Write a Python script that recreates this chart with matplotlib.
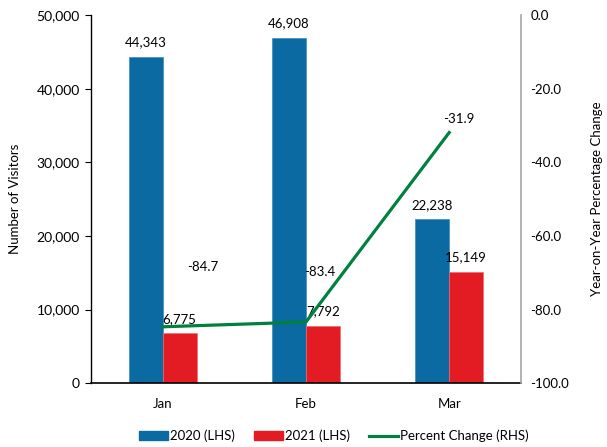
import numpy as np
import matplotlib.pyplot as plt
from matplotlib.lines import Line2D
from matplotlib.patches import Patch
from matplotlib.ticker import FuncFormatter

plt.rcParams['font.family'] = ['Lato', 'DejaVu Sans']

months = ["Jan", "Feb", "Mar"]
visitors_2020 = [44343, 46908, 22238]
visitors_2021 = [6775, 7792, 15149]
pct_change = [-84.7, -83.4, -31.9]

# hand-placed offsets (points) for the percent labels
pct_offsets = [(29, 43), (10, 36), (7, 10)]

blue = "#0a6aa1"
red = "#e31c24"
green = "#00803e"

fig = plt.figure(figsize=(6.07, 4.47), dpi=100)
ax = fig.add_axes([0.150, 0.143, 0.708, 0.823])
ax2 = ax.twinx()

x = np.arange(len(months))
w = 0.237
b1 = ax.bar(x - w/2, visitors_2020, w, color=blue, edgecolor="#3a8cc0", linewidth=0.5, zorder=2)
b2 = ax.bar(x + w/2, visitors_2021, w, color=red, edgecolor="#f06a70", linewidth=0.5, zorder=2)

for bars, vals in ((b1, visitors_2020), (b2, visitors_2021)):
    for r, v in zip(bars, vals):
        ax.annotate(f"{v:,}", (r.get_x() + r.get_width()/2, v),
                    xytext=(0, 6), textcoords="offset points",
                    ha="center", va="bottom", fontsize=9.5)

ax.set_xlim(-0.5, 2.5)
ax.set_ylim(0, 50000)
ax.set_yticks(np.arange(0, 50001, 10000))
ax.yaxis.set_major_formatter(FuncFormatter(lambda v, p: f"{int(v):,}"))
ax.set_xticks(x)
ax.set_xticklabels(months, fontsize=9.5)
ax.tick_params(axis="x", length=0, pad=11)
ax.tick_params(axis="y", length=4, labelsize=10, pad=4)
ax.set_ylabel("Number of Visitors", fontsize=9.5, va="center")
ax.yaxis.set_label_coords(-0.177, 0.5)

ax2.plot(x, pct_change, color=green, linewidth=2.3, zorder=3)
for xi, v, off in zip(x, pct_change, pct_offsets):
    ax2.annotate(f"{v:.1f}", (xi, v), xytext=off, textcoords="offset points",
                 ha="center", va="center", fontsize=9.5)
ax2.set_ylim(-100, 0)
ax2.set_yticks(np.arange(-100, 1, 20))
ax2.yaxis.set_major_formatter(FuncFormatter(lambda v, p: f"{v:.1f}"))
ax2.tick_params(axis="y", length=0, labelsize=9.5, pad=7)
ax2.set_ylabel("Year-on-Year Percentage Change", fontsize=9.5, rotation=90, va="center")
ax2.yaxis.set_label_coords(1.177, 0.5)

for a in (ax, ax2):
    a.spines["top"].set_visible(False)
ax.spines["right"].set_visible(False)
ax2.spines["left"].set_visible(False)
ax2.spines["bottom"].set_visible(False)
ax2.spines["right"].set_color("#a6a6a6")
ax2.spines["right"].set_linewidth(1.2)
ax.spines["left"].set_linewidth(1.0)
ax.spines["bottom"].set_linewidth(1.2)

handles = [Patch(color=blue, label="2020 (LHS)"),
           Patch(color=red, label="2021 (LHS)"),
           Line2D([0], [0], color=green, linewidth=2.3, label="Percent Change (RHS)")]
fig.legend(handles=handles, loc="center", bbox_to_anchor=(0.55, 0.025), ncol=3,
           frameon=False, fontsize=9.5, handlelength=2.2, handleheight=0.6,
           handletextpad=0.1, columnspacing=1.5)

fig.savefig("out.png", dpi=100)
